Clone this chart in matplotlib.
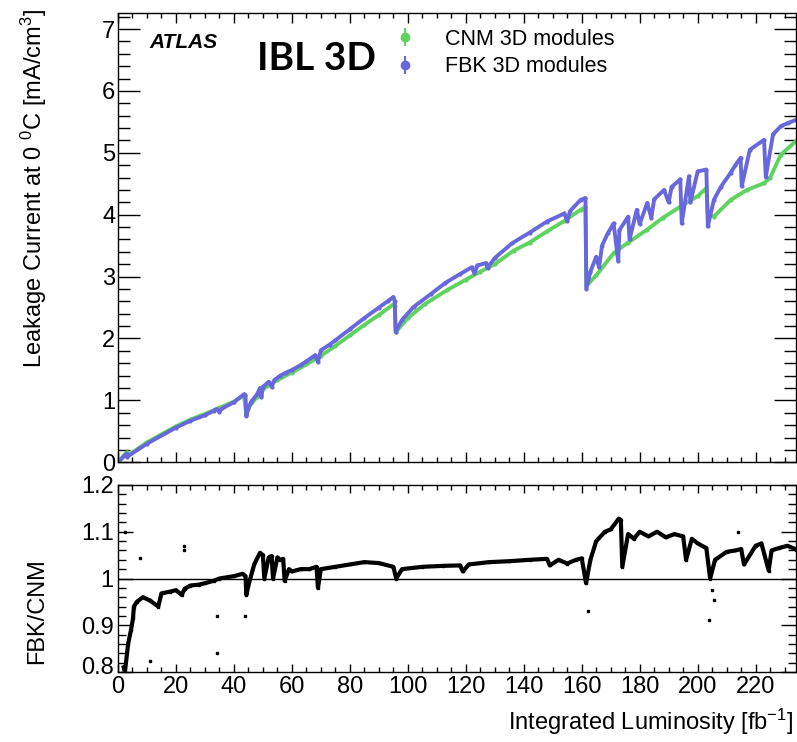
import matplotlib.pyplot as plt
import numpy as np
from matplotlib.lines import Line2D
from matplotlib.legend_handler import HandlerTuple
from matplotlib.ticker import MultipleLocator
from matplotlib.transforms import ScaledTranslation

plt.rcParams["font.family"] = ["Liberation Sans", "DejaVu Sans"]
plt.rcParams["mathtext.fontset"] = "custom"
plt.rcParams["mathtext.rm"] = "Liberation Sans"
plt.rcParams["mathtext.it"] = "Liberation Sans:italic"

# leakage current, FBK modules
fbk_lumi = [0.5, 3.0, 3.2, 10, 20, 25, 30, 33, 34, 35, 36, 40, 43.5, 44.0, 44.3,
            45, 46, 48, 49, 49.5, 50, 52, 53, 54, 56, 58, 60, 63, 65, 68, 69, 70, 73, 75, 80, 85, 90, 93, 95, 95.5, 95.8,
            98, 102, 108, 113, 118, 122, 123, 124, 127, 127.5, 130, 136, 142, 148, 154, 155, 156, 159.6, 161.3, 161.6,
            163, 165, 166, 167, 169, 171, 172.6, 173, 176, 176.5, 179, 180, 182.6, 184, 185, 188.4, 190, 191, 194, 194.5, 197, 197.5, 200, 203, 203.5,
            205.6, 208, 211.4, 213, 214.8, 215.2, 218, 222.9, 223.5, 226, 228.7, 231, 234.4]
fbk_curr = [0.02, 0.14, 0.09, 0.3, 0.56, 0.67, 0.76, 0.83, 0.86, 0.82, 0.87, 0.97, 1.1, 1.08, 0.75,
            0.88, 0.98, 1.1, 1.2, 1.05, 1.22, 1.3, 1.22, 1.33, 1.4, 1.45, 1.49, 1.57, 1.63, 1.73, 1.62, 1.81, 1.9, 1.97, 2.15, 2.33, 2.5, 2.6, 2.67, 2.6, 2.11,
            2.3, 2.51, 2.72, 2.9, 3.04, 3.15, 3.06, 3.18, 3.22, 3.14, 3.3, 3.54, 3.71, 3.89, 4.02, 3.9, 4.06, 4.24, 4.27, 2.8,
            3.08, 3.32, 3.15, 3.5, 3.7, 3.86, 3.25, 3.75, 3.97, 3.6, 4.08, 3.85, 4.19, 3.95, 4.25, 4.4, 4.2, 4.45, 4.57, 3.86, 4.62, 4.2, 4.7, 4.73, 3.81,
            4.24, 4.45, 4.68, 4.8, 4.92, 4.46, 5.05, 5.21, 4.61, 5.3, 5.43, 5.48, 5.54]

# leakage current, CNM modules
cnm_lumi = [0.5, 3.0, 3.2, 10, 20, 25, 30, 35, 40, 43.5, 44.3,
            45, 48, 50, 55, 60, 65, 70, 75, 80, 85, 90, 95, 95.5, 95.8,
            100, 106, 113.5, 120, 125, 130, 136.5, 142, 148, 154, 159.6, 161.3, 161.6,
            165, 171, 176, 182.6, 188, 194, 200, 203, 203.5,
            205.6, 211.4, 217, 222.9, 225, 228.7, 234.4]
cnm_curr = [0.03, 0.16, 0.1, 0.32, 0.58, 0.69, 0.78, 0.88, 0.98, 1.08, 0.76,
            0.88, 1.06, 1.18, 1.33, 1.45, 1.58, 1.72, 1.88, 2.05, 2.22, 2.38, 2.55, 2.52, 2.1,
            2.33, 2.56, 2.78, 2.95, 3.08, 3.2, 3.42, 3.55, 3.73, 3.9, 4.08, 4.12, 2.85,
            3.02, 3.38, 3.55, 3.76, 3.95, 4.13, 4.3, 4.43, 4.0,
            3.97, 4.24, 4.4, 4.51, 4.6, 4.97, 5.21]

# FBK/CNM ratio
ratio_lumi = [2.0, 2.4, 3.5, 4.5, 5.2, 5.5, 6.5, 8.6, 11, 13.9,
              15, 18, 20, 22, 23, 25, 28, 30, 33, 35, 38, 40, 43, 44.0, 44.3,
              45, 47, 49, 50, 50.5, 52, 53, 53.5, 55, 56, 57, 57.5, 59, 60, 63, 66, 68.5, 69, 70, 75, 80, 85, 90, 95, 96,
              98, 105, 112, 118, 119, 121, 128, 135, 142, 148, 149, 152, 155, 158, 160, 161.5,
              163, 165, 168, 170, 172.8, 173.5, 174, 176, 178, 180, 183, 186, 189, 192, 195, 196, 198, 200, 203, 204.3,
              206, 210, 213, 215, 216, 220, 222, 224.5, 225.5, 228, 231, 234]
ratio_vals = [0.81, 0.8, 0.86, 0.89, 0.915, 0.94, 0.95, 0.96, 0.953, 0.94,
              0.968, 0.972, 0.975, 0.965, 0.978, 0.985, 0.987, 0.99, 0.995, 1.0, 1.003, 1.005, 1.01, 1.005, 0.965,
              0.985, 1.03, 1.055, 1.05, 1.0, 1.045, 1.048, 1.0, 1.045, 1.04, 1.042, 0.995, 1.02, 1.015, 1.02, 1.02, 1.025, 0.98, 1.02, 1.025, 1.03, 1.035, 1.033, 1.025, 1.0,
              1.02, 1.025, 1.027, 1.028, 1.015, 1.03, 1.035, 1.037, 1.04, 1.042, 1.028, 1.04, 1.032, 1.04, 1.043, 0.99,
              1.04, 1.08, 1.1, 1.105, 1.128, 1.125, 1.025, 1.095, 1.085, 1.1, 1.09, 1.1, 1.088, 1.095, 1.09, 1.04, 1.085, 1.075, 1.065, 1.0,
              1.04, 1.057, 1.06, 1.063, 1.03, 1.07, 1.075, 1.017, 1.06, 1.065, 1.07, 1.062]

# stray single points
stray_lumi = [2.5, 7.6, 11.0, 22.8, 22.8, 34.0, 34.0, 44.0, 162.0, 205.0, 205.5, 203.8, 214.0]
stray_vals = [1.10, 1.043, 0.823, 1.07, 1.06, 0.92, 0.84, 0.92, 0.93, 0.975, 0.955, 0.912, 1.1]

green = "#5fd35f"
blue = "#6868dc"

fig = plt.figure(figsize=(7.97, 7.42), dpi=100)
ax = fig.add_axes([0.148, 0.377, 0.851, 0.6055])
ax2 = fig.add_axes([0.148, 0.0943, 0.851, 0.2521])

ax.plot(cnm_lumi, cnm_curr, color=green, lw=2.8, marker="o", ms=2)
ax.plot(fbk_lumi, fbk_curr, color=blue, lw=2.8, marker="o", ms=2)
ax.set_xlim(0, 234)
ax.set_ylim(0, 7.26)

ax2.axhline(1.0, color="black", lw=1.0)
ax2.plot(ratio_lumi, ratio_vals, color="black", lw=3.0, marker="s", ms=2)
ax2.plot(stray_lumi, stray_vals, ls="none", marker="s", ms=2, color="black")
ax2.set_xlim(0, 234)
ax2.set_ylim(0.8, 1.2)

for a in (ax, ax2):
    a.xaxis.set_major_locator(MultipleLocator(20))
    a.xaxis.set_minor_locator(MultipleLocator(5))
    a.tick_params(which="both", direction="in", top=True, right=True, labelsize=17, width=1.0, pad=2)
    for s in a.spines.values():
        s.set_linewidth(1.0)

ax.yaxis.set_major_locator(MultipleLocator(1))
ax.yaxis.set_minor_locator(MultipleLocator(0.2))
ax.tick_params(axis="y", which="major", length=16)
ax.tick_params(axis="y", which="minor", length=8.5)
ax.tick_params(axis="x", which="major", length=7, labelbottom=False)
ax.tick_params(axis="x", which="minor", length=3.6)

ax2.yaxis.set_minor_locator(MultipleLocator(0.02))
ax2.set_yticks([0.8, 0.9, 1.0, 1.1, 1.2])
ax2.set_yticklabels(["0.8", "0.9", "1", "1.1", "1.2"])
ax2.tick_params(axis="y", which="major", length=11, pad=3)
ax2.tick_params(axis="y", which="minor", length=5.8)
ax2.tick_params(axis="x", which="major", length=6, pad=3)
ax2.tick_params(axis="x", which="minor", length=3.5)
# the "0.8" label sits just left of the "0" tick label, lift it a few pixels
lab = ax2.get_yticklabels()[0]
lab.set_transform(lab.get_transform() + ScaledTranslation(0, 5 / 72, fig.dpi_scale_trans))

fig.text(0.042, 0.988, "Leakage Current at 0 $^{0}$C [mA/cm$^{3}$]", rotation=90,
         ha="center", va="top", fontsize=17)
fig.text(0.047, 0.176, "FBK/CNM", rotation=90, ha="center", va="center", fontsize=17)
fig.text(0.995, 0.027, "Integrated Luminosity [fb$^{-1}$]", ha="right", va="center", fontsize=17)

ax.text(0.046, 0.935, "ATLAS", transform=ax.transAxes, fontsize=15, fontweight="bold",
        fontstyle="italic", va="center", ha="left")
ax.text(0.205, 0.898, "IBL 3D", transform=ax.transAxes, fontsize=28, fontweight="bold",
        family="Lato", va="center", ha="left")

handles = []
for c in (green, blue):
    dot = Line2D([], [], ls="none", marker="o", ms=6, color=c)
    bar = Line2D([], [], ls="none", marker="|", ms=13, mew=1.5, color=c)
    handles.append((bar, dot))
ax.legend(handles, ["CNM 3D modules", "FBK 3D modules"], handler_map={tuple: HandlerTuple(ndivide=1)},
          loc="upper left", bbox_to_anchor=(0.375, 1.008), frameon=False, fontsize=15.5,
          handlelength=1.2, handletextpad=1.3, labelspacing=0.3)

fig.savefig("out.png", dpi=100)
